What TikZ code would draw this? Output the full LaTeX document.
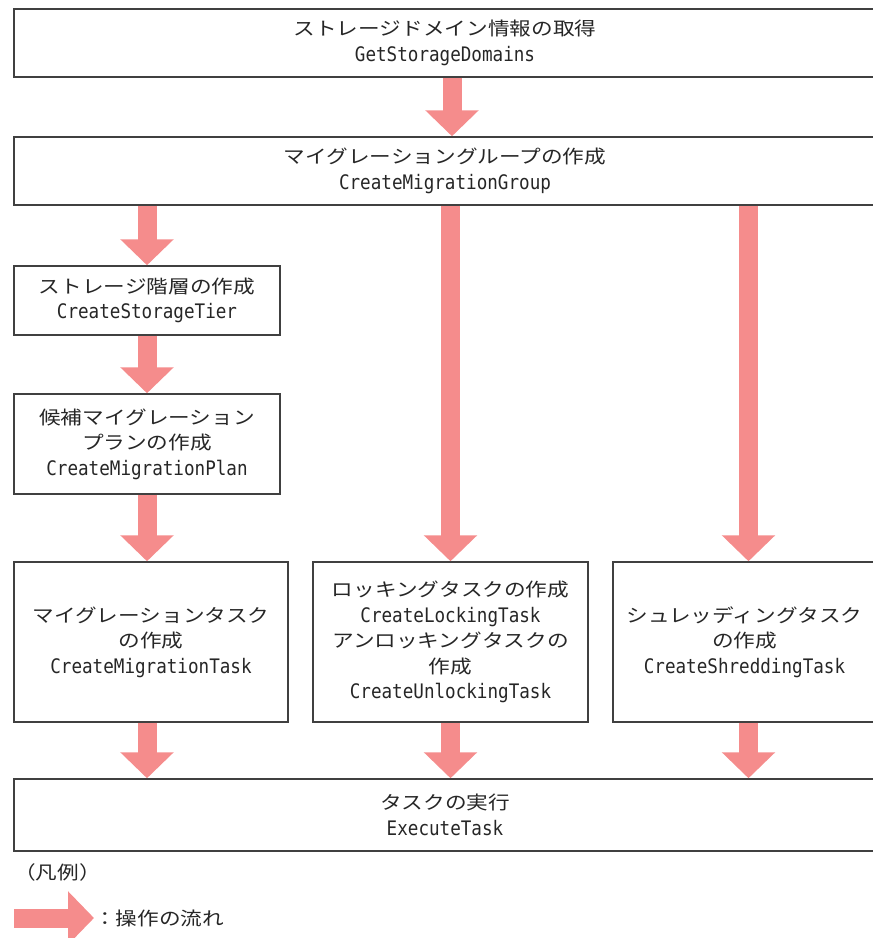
\documentclass[tikz,border=0pt]{standalone}
\usepackage{fontspec}
\setmainfont{Noto Sans CJK JP}
\newfontfamily\jpfont[FakeStretch=1.17]{Noto Sans CJK JP}
\newfontfamily\codefont[FakeStretch=0.88]{DejaVu Sans Mono}
\usetikzlibrary{arrows.meta}
\definecolor{flowpink}{RGB}{245,140,140}
\newcommand{\api}[1]{{\codefont\fontsize{20}{25.5}\selectfont #1}}
\begin{document}
\begin{tikzpicture}[x=1pt,y=-1pt,
    box/.style={draw=black!75,line width=1.5pt,inner sep=0pt,align=center,text=black!85,
      font=\jpfont\fontsize{18.5}{25.5}\selectfont},
    legendtext/.style={inner sep=0pt,anchor=west,text=black!85,
      font=\jpfont\fontsize{18.5}{25.5}\selectfont},
    flow/.style={draw=flowpink,line width=19pt,-{Triangle[width=52pt,length=26pt]}}]
  \useasboundingbox (0,0) rectangle (873,938);
  \node[box,minimum width=862pt,minimum height=68pt] (dom) at (445,43)
    {ストレージドメイン情報の取得\\\api{GetStorageDomains}};
  \node[box,minimum width=862pt,minimum height=68pt] (grp) at (445,171)
    {マイグレーショングループの作成\\\api{CreateMigrationGroup}};
  \node[box,minimum width=266pt,minimum height=69pt] (tier) at (147,300.5)
    {ストレージ階層の作成\\\api{CreateStorageTier}};
  \node[box,minimum width=266pt,minimum height=100pt] (plan) at (147,444)
    {候補マイグレーション\\プランの作成\\\api{CreateMigrationPlan}};
  \node[box,minimum width=274pt,minimum height=160pt] (mtask) at (151,642)
    {マイグレーションタスク\\の作成\\\api{CreateMigrationTask}};
  \node[box,minimum width=275pt,minimum height=160pt] (lock) at (450.5,642)
    {ロッキングタスクの作成\\\api{CreateLockingTask}\\アンロッキングタスクの\\作成\\\api{CreateUnlockingTask}};
  \node[box,minimum width=263pt,minimum height=160pt] (shred) at (744.5,642)
    {シュレッディングタスク\\の作成\\\api{CreateShreddingTask}};
  \node[box,minimum width=862pt,minimum height=72pt] (exec) at (445,815)
    {タスクの実行\\\api{ExecuteTask}};
  \node[legendtext] (legend) at (14,872) {（凡例）};
  \node[legendtext] (legtext) at (94,918) {：操作の流れ};
  \coordinate (domcol) at ([xshift=7pt]dom.south);
  \coordinate (shredcol) at ([xshift=4pt]shred.north);
  \coordinate (legstart) at (14,918);
  \begin{scope}[flow]
    \draw (domcol) to (grp.north -| domcol);
    \draw (grp.south -| tier.north) to (tier.north);
    \draw (tier.south) to (plan.north);
    \draw (plan.south) to (plan.south |- mtask.north);
    \draw (grp.south -| lock.north) to (lock.north);
    \draw (grp.south -| shredcol) to (shredcol);
    \draw (mtask.south -| tier.south) to (exec.north -| tier.south);
    \draw (lock.south) to (lock.south |- exec.north);
    \draw (shred.south -| shredcol) to (exec.north -| shredcol);
    \draw (legstart) to (legtext.west);
  \end{scope}
\end{tikzpicture}
\end{document}
